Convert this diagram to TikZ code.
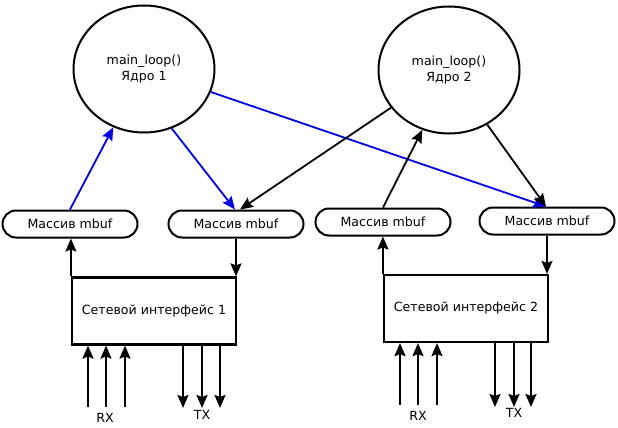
\documentclass[tikz,border=0pt]{standalone}
\usepackage{fontspec}
\setmainfont{DejaVu Sans}
\usetikzlibrary{shapes.geometric,shapes.misc,arrows.meta}
\definecolor{linkblue}{RGB}{0,0,225}
\begin{document}
\begin{tikzpicture}[x=1pt,y=-1pt,
  every node/.style={font=\fontsize{12.6}{16}\selectfont},
  core/.style={draw,ellipse,line width=2pt,minimum width=141pt,minimum height=127pt,inner sep=0pt,align=center},
  buf/.style={draw,rounded rectangle,line width=2pt,minimum width=135pt,minimum height=27pt,inner sep=0pt},
  nic/.style={draw,rectangle,line width=2.2pt,minimum width=164pt,minimum height=67pt,inner sep=0pt},
  arr/.style={line width=2pt,-{Stealth[length=13pt,width=11pt,inset=2pt]}},
  barr/.style={arr,line width=1.8pt,draw=linkblue,fill=linkblue}]
\useasboundingbox (0,0) rectangle (618,428);
\node[core] (c1) at (144,69) {main\_loop()\\Ядро 1};
\node[core] (c2) at (449,70) {main\_loop()\\Ядро 2};
\node[buf] (o1) at (70,224) {Массив mbuf};
\node[buf] (o2) at (236,224) {Массив mbuf};
\node[buf] (o3) at (383,222) {Массив mbuf};
\node[buf] (o4) at (547,221) {Массив mbuf};
\node[nic] (b1) at (154,311) {Сетевой интерфейс 1};
\node[nic] (b2) at (466,308.5) {Сетевой интерфейс 2};
% core connectors
\draw[barr] (o1.north) -- (c1);
\draw[barr] (c1.295) -- ([xshift=-1pt]o2.north);
\draw[barr] (c1.341) -- ([xshift=-1pt]o4.north);
\draw[arr,line width=1.8pt] (c2.213) -- ([xshift=4pt]o2.north);
\draw[arr,line width=1.8pt] (o3.north) -- (c2.246);
\draw[arr,line width=1.8pt] (c2.305) -- ([xshift=-1pt]o4.north);
% buffers to interfaces
\draw[arr] (b1.north west) -- (b1.north west |- o1.south);
\draw[arr] (o2.south) -- (o2.south |- b1.north);
\draw[arr] (b2.north west) -- (b2.north west |- o3.south);
\draw[arr] (o4.south) -- (o4.south |- b2.north);
% RX / TX
\foreach \x [count=\i] in {88,106,125} {
  \coordinate (rxa\i) at (\x,407);
  \draw[arr] (rxa\i) -- (rxa\i |- b1.south);
}
\foreach \x [count=\i] in {183,202,220} {
  \coordinate (txa\i) at (\x,408);
  \draw[arr] (txa\i |- b1.south) -- (txa\i);
}
\foreach \x [count=\i] in {400,418,437} {
  \coordinate (rxb\i) at (\x,405);
  \draw[arr] (rxb\i) -- (rxb\i |- b2.south);
}
\foreach \x [count=\i] in {495,514,531} {
  \coordinate (txb\i) at (\x,407);
  \draw[arr] (txb\i |- b2.south) -- (txb\i);
}
\node (rxl1) at (105,418) {RX};
\node (txl1) at (202,415) {TX};
\node (rxl2) at (418,416) {RX};
\node (txl2) at (514,413) {TX};
\end{tikzpicture}
\end{document}
